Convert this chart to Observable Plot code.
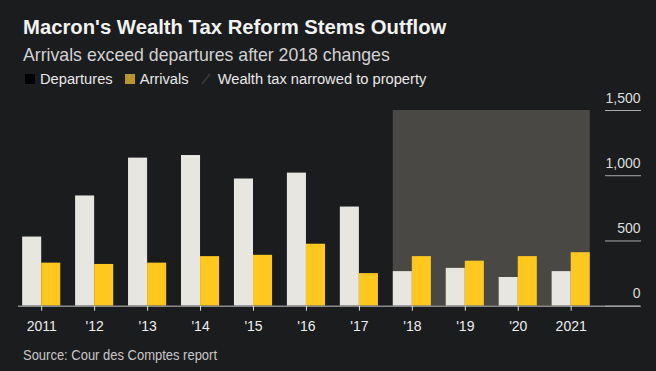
<!DOCTYPE html>
<html><head><meta charset="utf-8">
<script src="https://cdn.jsdelivr.net/npm/d3@7"></script>
<script src="https://cdn.jsdelivr.net/npm/@observablehq/plot@0.6"></script>
<style>
body{margin:0;background:#1b1c1e;width:656px;height:371px;overflow:hidden;position:relative;font-family:"Liberation Sans",Arial,sans-serif;}
.t{position:absolute;left:23px;white-space:nowrap;}
#title{top:15px;font-size:20.3px;line-height:24px;font-weight:bold;color:#f2f2f2;}
#sub{top:44px;font-size:17.7px;line-height:22px;color:#d2d2d2;}
#legend{top:70px;left:25px;font-size:14.7px;line-height:18px;color:#e8e8e8;display:flex;align-items:center;}
.sw{display:inline-block;width:10px;height:10px;margin-right:5px;}
.item{display:flex;align-items:center;margin-right:12px;}
#chart{position:absolute;left:0;top:90px;}
#source{top:346px;font-size:15px;line-height:18px;color:#c8c8c8;transform:scaleX(0.865);transform-origin:0 0;}
</style></head>
<body>
<div id="title" class="t">Macron's Wealth Tax Reform Stems Outflow</div>
<div id="sub" class="t">Arrivals exceed departures after 2018 changes</div>
<div id="legend" class="t">
  <span class="item"><span class="sw" style="background:#000"></span>Departures</span>
  <span class="item"><span class="sw" style="background:#b8962c"></span>Arrivals</span>
  <span class="item"><svg width="10" height="12" style="margin-right:7px"><line x1="1" y1="11" x2="9" y2="1" stroke="#3c3c3c" stroke-width="1.5"/></svg>Wealth tax narrowed to property</span>
</div>
<div id="chart"></div>
<div id="source" class="t">Source: Cour des Comptes report</div>
<script>
const years = [2011, 2012, 2013, 2014, 2015, 2016, 2017, 2018, 2019, 2020, 2021];
const departures = [530, 845, 1135, 1155, 975, 1020, 760, 265, 290, 220, 265];
const arrivals = [330, 320, 330, 380, 390, 475, 250, 380, 345, 380, 410];
const tickLabels = ["2011", "'12", "'13", "'14", "'15", "'16", "'17", "'18", "'19", "'20", "2021"];
const yTicks = [0, 500, 1000, 1500];
const reformStart = 2018;
const reformEnd = 2021;
const reformTop = 1500;

const half = 0.36;
const rows = years.map((year, i) => ({year, dep: departures[i], arr: arrivals[i]}));
const shade = [{start: reformStart, end: reformEnd, top: reformTop}];

const chart = Plot.plot({
  width: 656, height: 250,
  marginTop: 20, marginBottom: 34.3, marginLeft: 18, marginRight: 16,
  style: {background: "transparent", fontFamily: "Liberation Sans", fontSize: "14px", color: "#ddd", overflow: "visible"},
  x: {type: "linear", domain: [2011, 2021], range: [41.2, 570.7], label: null},
  y: {domain: [0, 1500], label: null},
  marks: [
    Plot.rect(shade, {x1: d => d.start - half, x2: d => d.end + half, y1: 0, y2: "top", fill: "#4a4844"}),
    Plot.rect(rows, {x1: d => d.year - half, x2: "year", y1: 0, y2: "dep", fill: "#e8e6e1"}),
    Plot.rect(rows, {x1: "year", x2: d => d.year + half, y1: 0, y2: "arr", fill: "#fec81f"}),
    Plot.ruleY([0], {stroke: "#8a8a8a", strokeWidth: 1.5}),
    Plot.axisX({ticks: years, tickSize: 5, tickPadding: 10, tickFormat: d => tickLabels[years.indexOf(d)], stroke: "#ddd", fill: "#eee", fontSize: 14}),
    Plot.axisY({anchor: "right", ticks: yTicks, tickSize: -36, tickPadding: 0, tickFormat: () => "", stroke: "#aaa"}),
    Plot.axisY({anchor: "right", ticks: yTicks, tickSize: 0, tickPadding: 0, textAnchor: "end", lineAnchor: "bottom", dy: -8, tickFormat: d => d.toLocaleString("en-US"), fill: "#ddd", fontSize: 14})
  ]
});
document.getElementById("chart").appendChild(chart);
</script>
</body></html>
